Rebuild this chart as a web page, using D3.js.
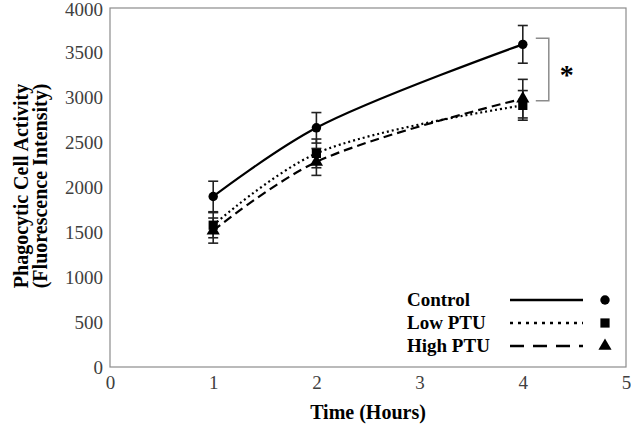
<!DOCTYPE html>
<html><head><meta charset="utf-8">
<script src="https://cdn.jsdelivr.net/npm/d3@7"></script>
<style>body{margin:0;background:#fff}svg{display:block}</style>
</head><body>
<svg id="c" width="631" height="430"></svg>
<script>
const hours = [1, 2, 4];
const seriesNames = ["Control", "Low PTU", "High PTU"];
const controlVals = [1900, 2665, 3595];
const controlErr = [170, 170, 210];
const lowVals = [1580, 2380, 2915];
const lowErr = [140, 160, 165];
const highVals = [1520, 2285, 2990];
const highErr = [140, 150, 215];
const xTicks = [0, 1, 2, 3, 4, 5];
const yTicks = [0, 500, 1000, 1500, 2000, 2500, 3000, 3500, 4000];

const svg = d3.select("#c");
const L = 110, R = 626, T = 8, B = 367;
const x = d3.scaleLinear().domain([0, 5]).range([L, R]);
const y = d3.scaleLinear().domain([0, 4000]).range([B, T]);
const serif = "'Liberation Serif', 'Times New Roman', serif";

svg.append("rect").attr("x", L).attr("y", T).attr("width", R - L).attr("height", B - T)
  .attr("fill", "none").attr("stroke", "#8c8c8c").attr("stroke-width", 1.2);

const yAxis = svg.append("g").attr("transform", `translate(${L},0)`)
  .call(d3.axisLeft(y).tickValues(yTicks).tickSize(0).tickPadding(7).tickFormat(d3.format("d")));
yAxis.select(".domain").remove();
yAxis.attr("font-family", serif).attr("font-size", 19);
yAxis.selectAll("text").attr("fill", "#404040").attr("dy", d => d === 4000 ? "0.42em" : "0.32em");

const xAxis = svg.append("g").attr("transform", `translate(0,${B})`)
  .call(d3.axisBottom(x).tickValues(xTicks).tickSize(0).tickPadding(9).tickFormat(d3.format("d")));
xAxis.select(".domain").remove();
xAxis.attr("font-family", serif).attr("font-size", 19);
xAxis.selectAll("text").attr("fill", "#404040");

svg.append("text").attr("x", 368).attr("y", 419).attr("text-anchor", "middle")
  .attr("font-family", serif).attr("font-weight", "bold").attr("font-size", 20).text("Time (Hours)");
const yt = svg.append("text").attr("transform", `translate(28,186) rotate(-90)`)
  .attr("text-anchor", "middle").attr("font-family", serif).attr("font-weight", "bold").attr("font-size", 20);
yt.append("tspan").attr("x", 0).attr("dy", 0).text("Phagocytic Cell Activity");
yt.append("tspan").attr("x", 0).attr("dy", 19).text("(Fluorescence Intensity)");

const series = [
  {name: seriesNames[0], vals: controlVals, err: controlErr, dash: null, marker: "circle"},
  {name: seriesNames[1], vals: lowVals, err: lowErr, dash: "2,3", marker: "square"},
  {name: seriesNames[2], vals: highVals, err: highErr, dash: "9,5", marker: "triangle"}
];
const line = d3.line().x(d => x(d[0])).y(d => y(d[1])).curve(d3.curveCatmullRom.alpha(0.5));
const symbols = {circle: d3.symbol(d3.symbolCircle, 70), square: d3.symbol(d3.symbolSquare, 85), triangle: d3.symbol(d3.symbolTriangle, 75)};

series.forEach(s => {
  const pts = hours.map((h, i) => [h, s.vals[i]]);
  svg.append("path").attr("d", line(pts)).attr("fill", "none").attr("stroke", "#000")
    .attr("stroke-width", 2.2).attr("stroke-dasharray", s.dash);
});
series.forEach(s => {
  hours.forEach((h, i) => {
    const g = svg.append("g").attr("stroke", "#222").attr("stroke-width", 1.6);
    g.append("line").attr("x1", x(h)).attr("x2", x(h)).attr("y1", y(s.vals[i] - s.err[i])).attr("y2", y(s.vals[i] + s.err[i]));
    [s.vals[i] - s.err[i], s.vals[i] + s.err[i]].forEach(v =>
      g.append("line").attr("x1", x(h) - 5).attr("x2", x(h) + 5).attr("y1", y(v)).attr("y2", y(v)));
  });
});
series.forEach(s => {
  hours.forEach((h, i) => {
    svg.append("path").attr("d", symbols[s.marker]()).attr("transform", `translate(${x(h)},${y(s.vals[i])})`).attr("fill", "#000");
  });
});

// significance bracket
const bx = x(4) + 13, by1 = y(controlVals[2]) - 6, by2 = y(highVals[2]) + 2;
svg.append("path").attr("d", `M${bx},${by1}H${bx + 13}V${by2}H${bx}`).attr("fill", "none")
  .attr("stroke", "#8c8c8c").attr("stroke-width", 1.5);
svg.append("text").attr("x", bx + 31).attr("y", (by1 + by2) / 2 + 15).attr("text-anchor", "middle")
  .attr("font-family", serif).attr("font-weight", "bold").attr("font-size", 28).text("*");

// legend
series.forEach((s, i) => {
  const ly = 300 + i * 23;
  svg.append("text").attr("x", 407).attr("y", ly + 6).attr("font-family", serif).attr("font-weight", "bold")
    .attr("font-size", 19).text(s.name);
  svg.append("line").attr("x1", 510).attr("x2", 583).attr("y1", ly).attr("y2", ly).attr("stroke", "#000")
    .attr("stroke-width", 2.6).attr("stroke-dasharray", s.dash ? (s.marker === "square" ? "3,5" : "14,9") : null);
  svg.append("path").attr("d", symbols[s.marker]()).attr("transform", `translate(605,${ly})`).attr("fill", "#000");
});
</script>
</body></html>
